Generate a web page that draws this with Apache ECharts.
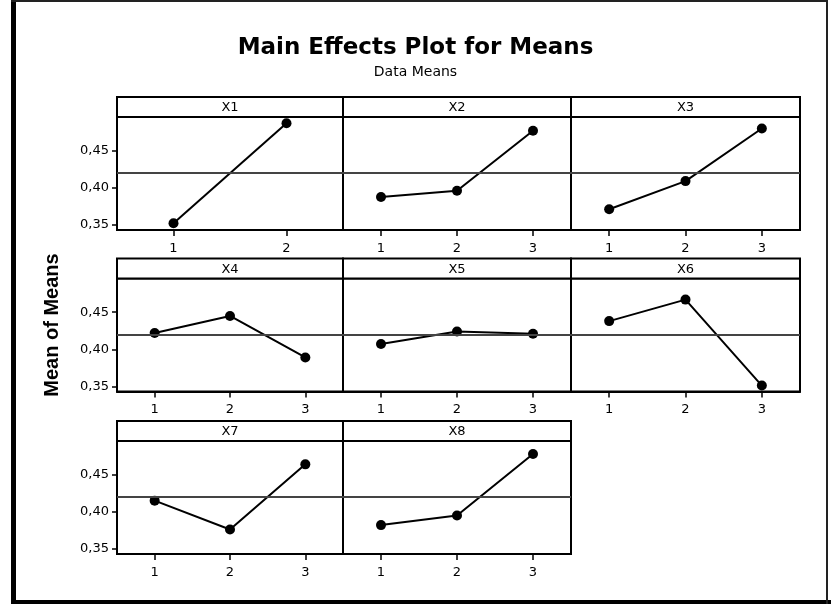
<!DOCTYPE html>
<html>
<head>
<meta charset="utf-8">
<script src="https://cdn.jsdelivr.net/npm/echarts@6/dist/echarts.min.js"></script>
<style>html,body{margin:0;padding:0;background:#fff}#c{width:831px;height:607px}</style>
</head>
<body>
<div id="c"></div>
<script>
// ---- data ----
var factors = ['X1', 'X2', 'X3', 'X4', 'X5', 'X6', 'X7', 'X8'];
var levels2 = ['1', '2'];
var levels3 = ['1', '2', '3'];
var x1 = [0.352, 0.487];
var x2 = [0.3875, 0.396, 0.477];
var x3 = [0.371, 0.409, 0.480];
var x4 = [0.422, 0.445, 0.389];
var x5 = [0.407, 0.424, 0.421];
var x6 = [0.438, 0.467, 0.351];
var x7 = [0.415, 0.376, 0.464];
var x8 = [0.382, 0.395, 0.478];
var grandMean = 0.4185;
var yTicks = [0.35, 0.40, 0.45];
var yMin = 0.343, yMax = 0.4955;

var seriesData = [x1, x2, x3, x4, x5, x6, x7, x8];
var seriesLevels = [levels2, levels3, levels3, levels3, levels3, levels3, levels3, levels3];

// ---- layout ----
var colEdges = [117, 343, 571, 800];
var rowTops = [97, 258.5, 421];
var headerH = 20, plotH = 113;

var grids = [], xAxes = [], yAxes = [], series = [], graphics = [];
var FONT = 'DejaVu Sans';

factors.forEach(function (name, i) {
  var col = i % 3, row = Math.floor(i / 3);
  var left = colEdges[col], width = colEdges[col + 1] - colEdges[col];
  var top = rowTops[row];
  grids.push({
    left: left, top: top + headerH, width: width, height: plotH,
    show: true, borderColor: '#000', borderWidth: 2, backgroundColor: 'transparent'
  });
  xAxes.push({
    type: 'category', gridIndex: i, data: seriesLevels[i], boundaryGap: true,
    axisLine: { show: true, lineStyle: { color: '#000', width: 2 } },
    axisTick: { show: true, alignWithLabel: true, length: 6, lineStyle: { color: '#000', width: 1.5 } },
    axisLabel: { color: '#000', fontSize: 13, fontFamily: FONT, margin: 12 },
    splitLine: { show: false }
  });
  var first = col === 0;
  yAxes.push({
    type: 'value', gridIndex: i, min: yMin, max: yMax,
    axisLine: { show: first, lineStyle: { color: '#000', width: 2 } },
    axisTick: { show: first, length: 5, customValues: yTicks, lineStyle: { color: '#000', width: 1.5 } },
    axisLabel: {
      show: first, customValues: yTicks, color: '#000', fontSize: 13, fontFamily: FONT, margin: 8,
      formatter: function (v) { return v.toFixed(2).replace('.', ','); }
    },
    splitLine: { show: false }
  });
  series.push({
    type: 'line', xAxisIndex: i, yAxisIndex: i, data: seriesData[i],
    symbol: 'circle', symbolSize: 10,
    itemStyle: { color: '#000' },
    lineStyle: { color: '#000', width: 2 },
    markLine: {
      silent: true, symbol: 'none', label: { show: false },
      lineStyle: { color: '#444', width: 2, type: 'solid' },
      data: [{ yAxis: grandMean }]
    }
  });
  graphics.push({
    type: 'rect', shape: { x: left, y: top, width: width, height: headerH },
    style: { fill: '#fff', stroke: '#000', lineWidth: 2 }, z: 10
  });
  graphics.push({
    type: 'text', x: left + width / 2, y: top + headerH / 2 + 1, z: 11,
    style: { text: name, fill: '#000', font: '13px "DejaVu Sans"', align: 'center', verticalAlign: 'middle' }
  });
});

// y axis title
graphics.push({
  type: 'text', x: 52, y: 325, rotation: Math.PI / 2, z: 11,
  style: { text: 'Mean of Means', fill: '#000', font: 'bold 20px "Liberation Sans"', align: 'center', verticalAlign: 'middle' }
});
// outer frame
graphics.push({ type: 'line', shape: { x1: 13.5, y1: 0, x2: 13.5, y2: 604 }, style: { stroke: '#000', lineWidth: 5 }, z: 12 });
graphics.push({ type: 'line', shape: { x1: 11, y1: 602, x2: 831, y2: 602 }, style: { stroke: '#000', lineWidth: 4 }, z: 12 });
graphics.push({ type: 'line', shape: { x1: 11, y1: 1, x2: 827, y2: 1 }, style: { stroke: '#222', lineWidth: 2 }, z: 12 });
graphics.push({ type: 'line', shape: { x1: 827, y1: 0, x2: 827, y2: 604 }, style: { stroke: '#222', lineWidth: 2 }, z: 12 });

var chart = echarts.init(document.getElementById('c'), null, { renderer: 'canvas' });
chart.setOption({
  animation: false,
  backgroundColor: '#fff',
  title: [
    { text: 'Main Effects Plot for Means', left: 'center', top: 32,
      textStyle: { fontFamily: FONT, fontWeight: 'bold', fontSize: 23, color: '#000' } },
    { text: 'Data Means', left: 'center', top: 60,
      textStyle: { fontFamily: FONT, fontWeight: 'normal', fontSize: 14, color: '#000' } }
  ],
  grid: grids,
  xAxis: xAxes,
  yAxis: yAxes,
  series: series,
  graphic: graphics
});
</script>
</body>
</html>
